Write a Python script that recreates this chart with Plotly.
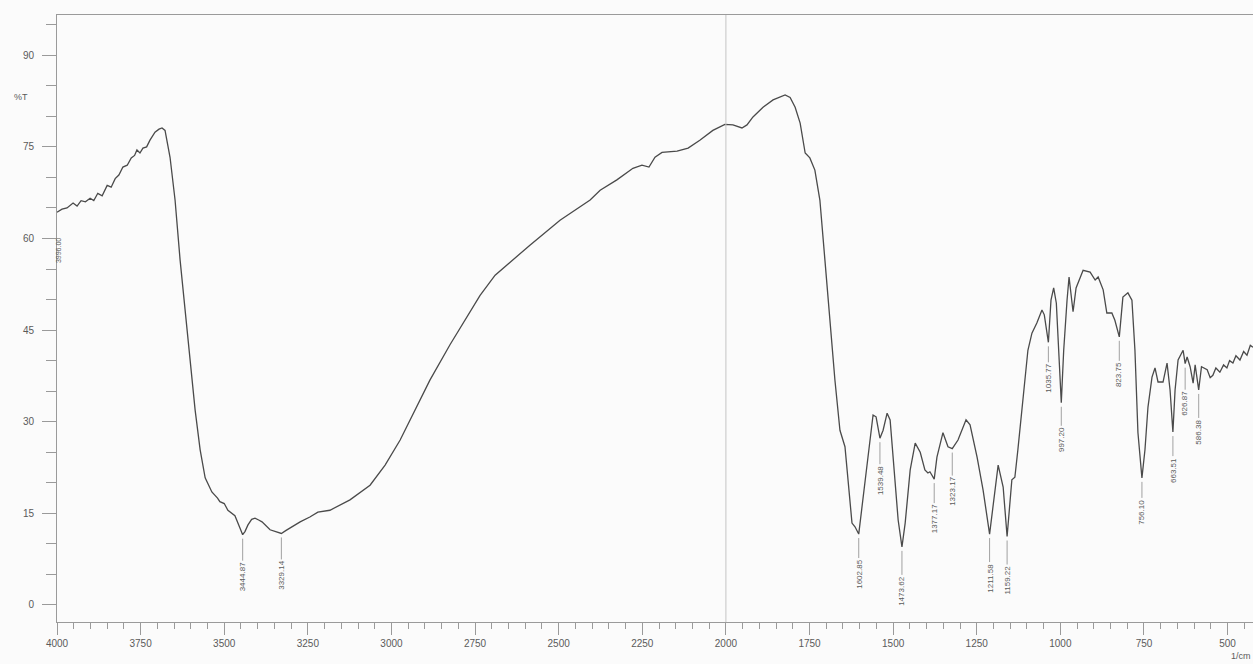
import numpy as np
import plotly.graph_objects as go

# FT-IR spectrum: wavenumber (1/cm, descending) and transmittance (%T)
wavenumber = [
    4000, 3985, 3970, 3958, 3952, 3940, 3928, 3915, 3901, 3890, 3878, 3865,
    3850, 3838, 3826, 3815, 3803, 3790, 3778, 3768, 3761, 3752, 3743, 3732,
    3722, 3707, 3695, 3686, 3677, 3662, 3647, 3632, 3617, 3602, 3587, 3572,
    3557, 3537, 3520, 3513, 3500, 3489, 3478, 3468, 3453, 3444.87, 3438, 3429,
    3418, 3408, 3397, 3387, 3363, 3339, 3329.14, 3315, 3303, 3273, 3244, 3220,
    3184, 3124, 3064, 3019, 2974, 2930, 2885, 2825, 2780, 2735, 2690, 2646,
    2586, 2496, 2406, 2376, 2326, 2278, 2251, 2230, 2212, 2191, 2146, 2113,
    2078, 2039, 2003, 1979, 1952, 1937, 1919, 1889, 1859, 1823, 1808, 1793,
    1778, 1763, 1749, 1734, 1719, 1704, 1689, 1674, 1659, 1644, 1623, 1614,
    1602.85, 1593, 1578, 1560, 1551, 1539.48, 1530, 1518, 1509, 1500, 1485,
    1473.62, 1464, 1449, 1434, 1419, 1405, 1396, 1390, 1377.17, 1369, 1351,
    1336, 1323.17, 1306, 1282, 1270, 1249, 1231, 1211.58, 1201, 1186, 1171,
    1159.22, 1145, 1136, 1127, 1112, 1097, 1085, 1070, 1055, 1048, 1035.77,
    1028, 1020, 1012, 997.20, 990, 980, 974, 962, 953, 932, 911, 896, 887,
    872, 861, 846, 837, 823.75, 813, 798, 786, 777, 768, 756.10, 747, 738,
    726, 717, 708, 693, 681, 672, 663.51, 657, 648, 633, 626.87, 621, 612,
    603, 597, 586.38, 578, 561, 552, 544, 535, 523, 512, 502, 494, 484, 475,
    463, 452, 442, 432, 424,
]
transmittance = [
    64.3, 64.8, 65.0, 65.6, 65.8, 65.3, 66.2, 66.0, 66.6, 66.2, 67.4, 67.0,
    68.7, 68.4, 69.8, 70.4, 71.7, 72.0, 73.2, 73.6, 74.5, 74.0, 74.8, 75.0,
    76.1, 77.4, 77.9, 78.1, 77.7, 73.3, 66.3, 56.5, 48.3, 40.1, 31.9, 25.4,
    20.8, 18.5, 17.5, 16.9, 16.6, 15.5, 15.0, 14.6, 12.6, 11.5, 12.0, 13.1,
    14.0, 14.2, 13.9, 13.6, 12.3, 11.8, 11.7, 12.2, 12.6, 13.6, 14.4, 15.2,
    15.5, 17.2, 19.6, 22.9, 27.0, 31.9, 36.8, 42.6, 46.6, 50.7, 54.0, 56.1,
    58.9, 63.0, 66.3, 67.9, 69.6, 71.5, 72.0, 71.7, 73.3, 74.1, 74.3, 74.8,
    76.1, 77.7, 78.7, 78.6, 78.1, 78.6, 79.9, 81.5, 82.7, 83.5, 83.1, 81.5,
    78.9, 74.0, 73.2, 71.2, 66.3, 56.5, 46.6, 36.8, 28.6, 25.9, 13.4, 12.8,
    11.6, 16.0, 23.2, 31.1, 30.8, 27.3, 28.6, 31.4, 30.3, 24.2, 13.9,
    9.5, 13.4, 22.1, 26.5, 25.0, 22.1, 21.6, 21.8, 20.6, 24.2, 28.2,
    25.9, 25.6, 27.0, 30.3, 29.5, 24.2, 18.8, 11.6, 16.0, 22.9, 19.3,
    11.2, 20.5, 20.9, 25.4, 33.6, 41.7, 44.5, 46.2, 48.3, 47.5, 43.0,
    49.9, 51.9, 49.4, 33.1, 41.7, 49.9, 53.7, 48.0, 51.9, 54.8, 54.5, 53.2, 53.7,
    51.6, 47.8, 47.8, 46.6, 43.9, 50.4, 51.1, 49.9, 41.7, 28.2, 20.8, 25.4, 32.4,
    37.3, 38.8, 36.5, 36.5, 39.6, 35.2, 28.3, 35.2, 40.1, 41.7, 39.5, 40.6, 39.0,
    36.3, 39.3, 35.2, 39.0, 38.5, 37.2, 37.6, 38.8, 38.1, 39.3, 38.8, 40.0, 39.6, 40.8,
    40.1, 41.5, 40.9, 42.5, 42.2,
]

# Picked peaks and the pixel offset of each label below its peak
peak_wn = [3444.87, 3329.14, 1602.85, 1539.48, 1473.62, 1377.17, 1323.17,
           1211.58, 1159.22, 1035.77, 997.20, 823.75, 756.10, 663.51,
           626.87, 586.38]
label_offset = [42, 42, 40, 42, 44, 40, 43, 44, 44, 36, 37, 38, 34, 38, 40, 42]

x_ticks = [4000, 3750, 3500, 3250, 3000, 2750, 2500, 2250, 2000, 1750,
           1500, 1250, 1000, 750, 500]
y_ticks = [0, 15, 30, 45, 60, 75, 90]

line_col = "#4a4a4a"
text_col = "#5a5a5a"
axis_col = "#9a9a9a"
font_family = "Liberation Sans, Arial, sans-serif"

wn_arr = np.array(wavenumber, dtype=float)
t_arr = np.array(transmittance, dtype=float)
peak_t = np.interp(peak_wn, wn_arr[::-1], t_arr[::-1])

fig = go.Figure()
fig.add_trace(go.Scatter(
    x=wavenumber, y=transmittance, mode="lines",
    line=dict(color=line_col, width=1.3), hoverinfo="skip", showlegend=False,
))

annotations = []
for wn, t, off in zip(peak_wn, peak_t, label_offset):
    annotations.append(dict(
        x=wn, y=t, xref="x", yref="y", text=f"{wn:.2f}",
        textangle=-90, showarrow=True, arrowhead=0, arrowwidth=0.8,
        arrowcolor="#8a8a8a", ax=0, ay=off, standoff=4,
        font=dict(family=font_family, size=8, color=text_col),
    ))

# label printed against the left axis
annotations.append(dict(
    x=3996.0, y=58.0, xref="x", yref="y", text="3996.00", textangle=-90,
    showarrow=False, font=dict(family=font_family, size=7, color=text_col),
))
annotations.append(dict(
    x=-0.03, y=83.1, xref="paper", yref="y", text="%T", showarrow=False,
    xanchor="center", font=dict(family=font_family, size=9, color=text_col),
))
annotations.append(dict(
    x=1.0, y=-0.056, xref="paper", yref="paper", text="1/cm", showarrow=False,
    xanchor="right", yanchor="middle",
    font=dict(family=font_family, size=9, color=text_col),
))

fig.add_shape(type="line", x0=2000, x1=2000, y0=0, y1=1, xref="x", yref="paper",
              line=dict(color="#c4c4c4", width=1))

fig.update_layout(
    width=1253, height=664,
    margin=dict(l=57, r=0, t=15, b=42),
    paper_bgcolor="#fbfbfb", plot_bgcolor="#fbfbfb",
    font=dict(family=font_family, size=10, color=text_col),
    annotations=annotations,
    xaxis=dict(
        range=[4000, 424], tickvals=x_ticks, ticktext=[str(v) for v in x_ticks],
        showgrid=False, zeroline=False, showline=True, linecolor=axis_col, linewidth=1,
        mirror=True, ticks="outside", ticklen=12, tickcolor=axis_col, tickwidth=1,
        minor=dict(dtick=50, tick0=0, ticks="outside", ticklen=6, tickcolor=axis_col, showgrid=False),
        tickfont=dict(size=10, color=text_col),
    ),
    yaxis=dict(
        range=[-2.8, 96.6], tickvals=y_ticks, ticktext=[str(v) for v in y_ticks],
        showgrid=False, zeroline=False, showline=True, linecolor=axis_col, linewidth=1,
        ticks="outside", ticklen=14, tickcolor=axis_col, tickwidth=1, ticklabelstandoff=6,
        minor=dict(dtick=5, tick0=0, ticks="outside", ticklen=10, tickcolor=axis_col, showgrid=False),
        tickfont=dict(size=10, color=text_col),
    ),
)

fig.write_html("out.html")
